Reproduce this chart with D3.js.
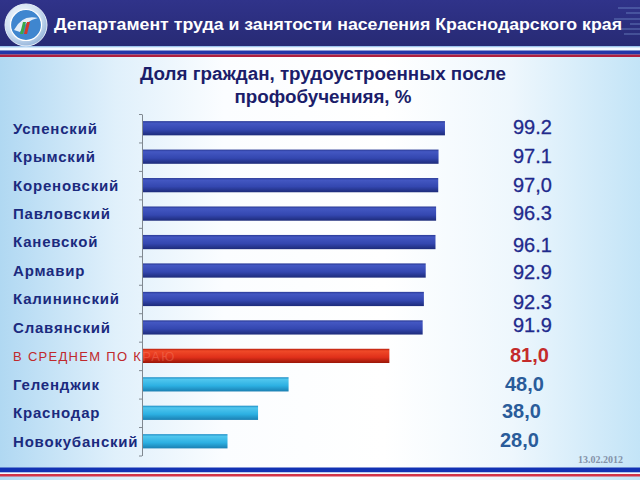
<!DOCTYPE html>
<html><head><meta charset="utf-8">
<script src="https://cdn.jsdelivr.net/npm/d3@7"></script>
<style>html,body{margin:0;padding:0;background:#fff}svg{display:block}</style>
</head><body>
<svg id="chart" width="640" height="480"></svg>
<script>
// ---- data ----
const headerTitle = "Департамент труда и занятости населения Краснодарского края";
const chartTitle = ["Доля граждан, трудоустроенных после", "профобученияя, %"];
const categories = ["Успенский","Крымский","Кореновский","Павловский","Каневской","Армавир","Калининский","Славянский","В СРЕДНЕМ ПО КРАЮ","Геленджик","Краснодар","Новокубанский"];
const values = [99.2, 97.1, 97.0, 96.3, 96.1, 92.9, 92.3, 91.9, 81.0, 48.0, 38.0, 28.0];
const valueLabels = ["99.2","97.1","97,0","96.3","96.1","92.9","92.3","91.9","81,0","48,0","38,0","28,0"];
const groups = ["district","district","district","district","district","district","district","district","average","low","low","low"];
const dateText = "13.02.2012";

// ---- layout (not data) ----
const labelDx = [0,0,0,0,0,0,0,0,-3,-8,-11,-13];
const labelDy = [-1,-1,0,-1,3,1.5,3,-3,-1,-1,-2,-1];

const svg = d3.select("#chart");
const W = 640, H = 480;
const defs = svg.append("defs");

// background gradient
const bg = defs.append("linearGradient").attr("id","bg").attr("x1",0).attr("x2",1).attr("y1",0).attr("y2",0);
[[0,"#b0d8f2"],[0.18,"#e0f0fb"],[0.35,"#fbfdff"],[0.6,"#ffffff"],[0.8,"#eef7fd"],[1,"#c3e4f7"]]
  .forEach(([o,c]) => bg.append("stop").attr("offset",o).attr("stop-color",c));
svg.append("rect").attr("width",W).attr("height",H).attr("fill","url(#bg)");

// header
const hg = defs.append("linearGradient").attr("id","hdr").attr("x1",0).attr("x2",0).attr("y1",0).attr("y2",1);
[[0,"#30338a"],[1,"#272a74"]].forEach(([o,c]) => hg.append("stop").attr("offset",o).attr("stop-color",c));
svg.append("rect").attr("x",0).attr("y",0).attr("width",W).attr("height",47).attr("fill","url(#hdr)");
svg.append("rect").attr("x",0).attr("y",46).attr("width",W).attr("height",1.5).attr("fill","#9cc3ec");
svg.append("rect").attr("x",0).attr("y",47.5).attr("width",W).attr("height",3).attr("fill","#f4f9ff");
svg.append("rect").attr("x",0).attr("y",50.5).attr("width",W).attr("height",4).attr("fill","#2436a8");
svg.append("rect").attr("x",0).attr("y",54.5).attr("width",W).attr("height",2.5).attr("fill","#b0203e");

// header right decoration lines
[[8,22],[13,14],[19,26],[24,10],[29,20],[34,16]].forEach(([yy,w]) => {
  svg.append("line").attr("x1",W-w).attr("x2",W).attr("y1",yy).attr("y2",yy)
    .attr("stroke","#8fb4e6").attr("stroke-opacity",0.55).attr("stroke-width",1);
});

// logo
const lg = defs.append("radialGradient").attr("id","logo").attr("cx","40%").attr("cy","35%").attr("r","70%");
[[0,"#ffffff"],[0.6,"#cfe0f2"],[1,"#8fb0d8"]].forEach(([o,c]) => lg.append("stop").attr("offset",o).attr("stop-color",c));
svg.append("circle").attr("cx",26).attr("cy",25).attr("r",21).attr("fill","url(#logo)").attr("stroke","#e8f0fa").attr("stroke-width",1);
svg.append("circle").attr("cx",26).attr("cy",25).attr("r",15.5).attr("fill","#3f86cf").attr("stroke","#ffffff").attr("stroke-width",1.2);
svg.append("path").attr("d","M14,30 Q22,14 38,18 Q26,20 20,32 Z").attr("fill","#ffffff").attr("opacity",0.85);
svg.append("path").attr("d","M20,34 L23,22 L26,22 L23,34 Z").attr("fill","#3aa84a");
svg.append("path").attr("d","M24,34 L27,22 L30,22 L27,34 Z").attr("fill","#d43a2a");

svg.append("text").attr("x",54).attr("y",29.5)
  .attr("font-family","'Liberation Sans', Arial, sans-serif").attr("font-weight","bold")
  .attr("font-size",17).attr("fill","#ffffff")
  .attr("textLength",568).attr("lengthAdjust","spacingAndGlyphs")
  .text(headerTitle);

// bottom stripes
svg.append("rect").attr("x",0).attr("y",467.5).attr("width",W).attr("height",5).attr("fill","#1232b4");
svg.append("rect").attr("x",0).attr("y",472.5).attr("width",W).attr("height",1.5).attr("fill","#f4f8ff");
svg.append("rect").attr("x",0).attr("y",474).attr("width",W).attr("height",2.5).attr("fill","#d23448");

// chart title
svg.append("text").attr("x",323).attr("y",80)
  .attr("text-anchor","middle").attr("font-family","'Liberation Sans', Arial, sans-serif")
  .attr("font-weight","bold").attr("font-size",18.8).attr("fill","#1b1d6a")
  .text(chartTitle[0]);
svg.append("text").attr("x",323).attr("y",103)
  .attr("text-anchor","middle").attr("font-family","'Liberation Sans', Arial, sans-serif")
  .attr("font-weight","bold").attr("font-size",18.8).attr("fill","#1b1d6a")
  .text(chartTitle[1]);

// scales
const x = d3.scaleLinear().domain([0, 100]).range([142, 447.4]);
const y = d3.scaleBand().domain(categories).range([114, 455.5]).paddingInner(0.5).paddingOuter(0.25);

// bar gradients
const grad = {
  district: [[0,"#2a3a96"],[0.15,"#4357c2"],[0.6,"#3447b0"],[1,"#1d2b7a"]],
  average:  [[0,"#b81c0c"],[0.15,"#f04a28"],[0.6,"#e0301a"],[1,"#9a1608"]],
  low:      [[0,"#1c8cc4"],[0.15,"#50c6ee"],[0.6,"#2cb0e2"],[1,"#1a7fb2"]]
};
Object.entries(grad).forEach(([k, stops]) => {
  const g = defs.append("linearGradient").attr("id","g-"+k).attr("x1",0).attr("x2",0).attr("y1",0).attr("y2",1);
  stops.forEach(([o,c]) => g.append("stop").attr("offset",o).attr("stop-color",c));
});

// category labels (drawn before bars so the red bar covers the long label)
const labelColor = { district:"#1b2a7e", average:"#c0282c", low:"#1b2a7e" };
function drawLabels(sel) {
  sel.attr("x",13)
    .attr("y",d => y(d) + y.bandwidth()/2)
    .attr("dy","0.36em")
    .attr("font-family","'Liberation Sans', Arial, sans-serif")
    .attr("font-weight",d => groups[categories.indexOf(d)] === "average" ? "normal" : "bold")
    .attr("font-size",d => groups[categories.indexOf(d)] === "average" ? 13 : 15)
    .attr("letter-spacing",d => groups[categories.indexOf(d)] === "average" ? 1.3 : 0.8)
    .text(d => d);
}
svg.append("g").selectAll("text").data(categories).join("text")
  .call(drawLabels)
  .attr("fill",d => labelColor[groups[categories.indexOf(d)]]);

// bars
svg.append("g").selectAll("rect").data(values).join("rect")
  .attr("x", x(0))
  .attr("y",(d,i) => y(categories[i]))
  .attr("width", d => x(d) - x(0))
  .attr("height", y.bandwidth())
  .attr("fill",(d,i) => "url(#g-" + groups[i] + ")");

// faint ghost of the average label showing through the red bar
defs.append("clipPath").attr("id","barclip").append("rect")
  .attr("x", x(0)).attr("y", 0).attr("width", W).attr("height", H);
svg.append("g").attr("clip-path","url(#barclip)")
  .selectAll("text").data(categories.filter((d,i) => groups[i] === "average")).join("text")
  .call(drawLabels)
  .attr("fill","#ff9a80").attr("opacity",0.3);

// axis with ticks at band boundaries
const edge = d3.scaleLinear().domain([0, categories.length]).range(y.range());
const axisG = svg.append("g").attr("transform","translate(" + x(0) + ",0)")
  .call(d3.axisLeft(edge).ticks(categories.length).tickFormat("").tickSize(3).tickSizeOuter(0));
axisG.selectAll("path,line").attr("stroke","#808890").attr("stroke-width",1);

// value labels
const valColor = { district:"#1f2a8c", average:"#c42b2b", low:"#2a5c9a" };
svg.append("g").selectAll("text").data(valueLabels).join("text")
  .attr("x",(d,i) => 513 + labelDx[i])
  .attr("y",(d,i) => y(categories[i]) + y.bandwidth()/2 + labelDy[i])
  .attr("dy","0.36em")
  .attr("font-family","'Liberation Sans', Arial, sans-serif")
  .attr("font-weight",(d,i) => groups[i] === "district" ? "normal" : "bold")
  .attr("font-size",20)
  .attr("fill",(d,i) => valColor[groups[i]])
  .attr("stroke",(d,i) => groups[i] === "district" ? valColor[groups[i]] : "none")
  .attr("stroke-width",0.3)
  .text(d => d);

// date
svg.append("text").attr("x",623).attr("y",463).attr("text-anchor","end")
  .attr("font-family","'Liberation Serif', 'Times New Roman', serif").attr("font-weight","bold")
  .attr("font-size",10).attr("fill","#8492a8").text(dateText);
</script>
</body></html>
